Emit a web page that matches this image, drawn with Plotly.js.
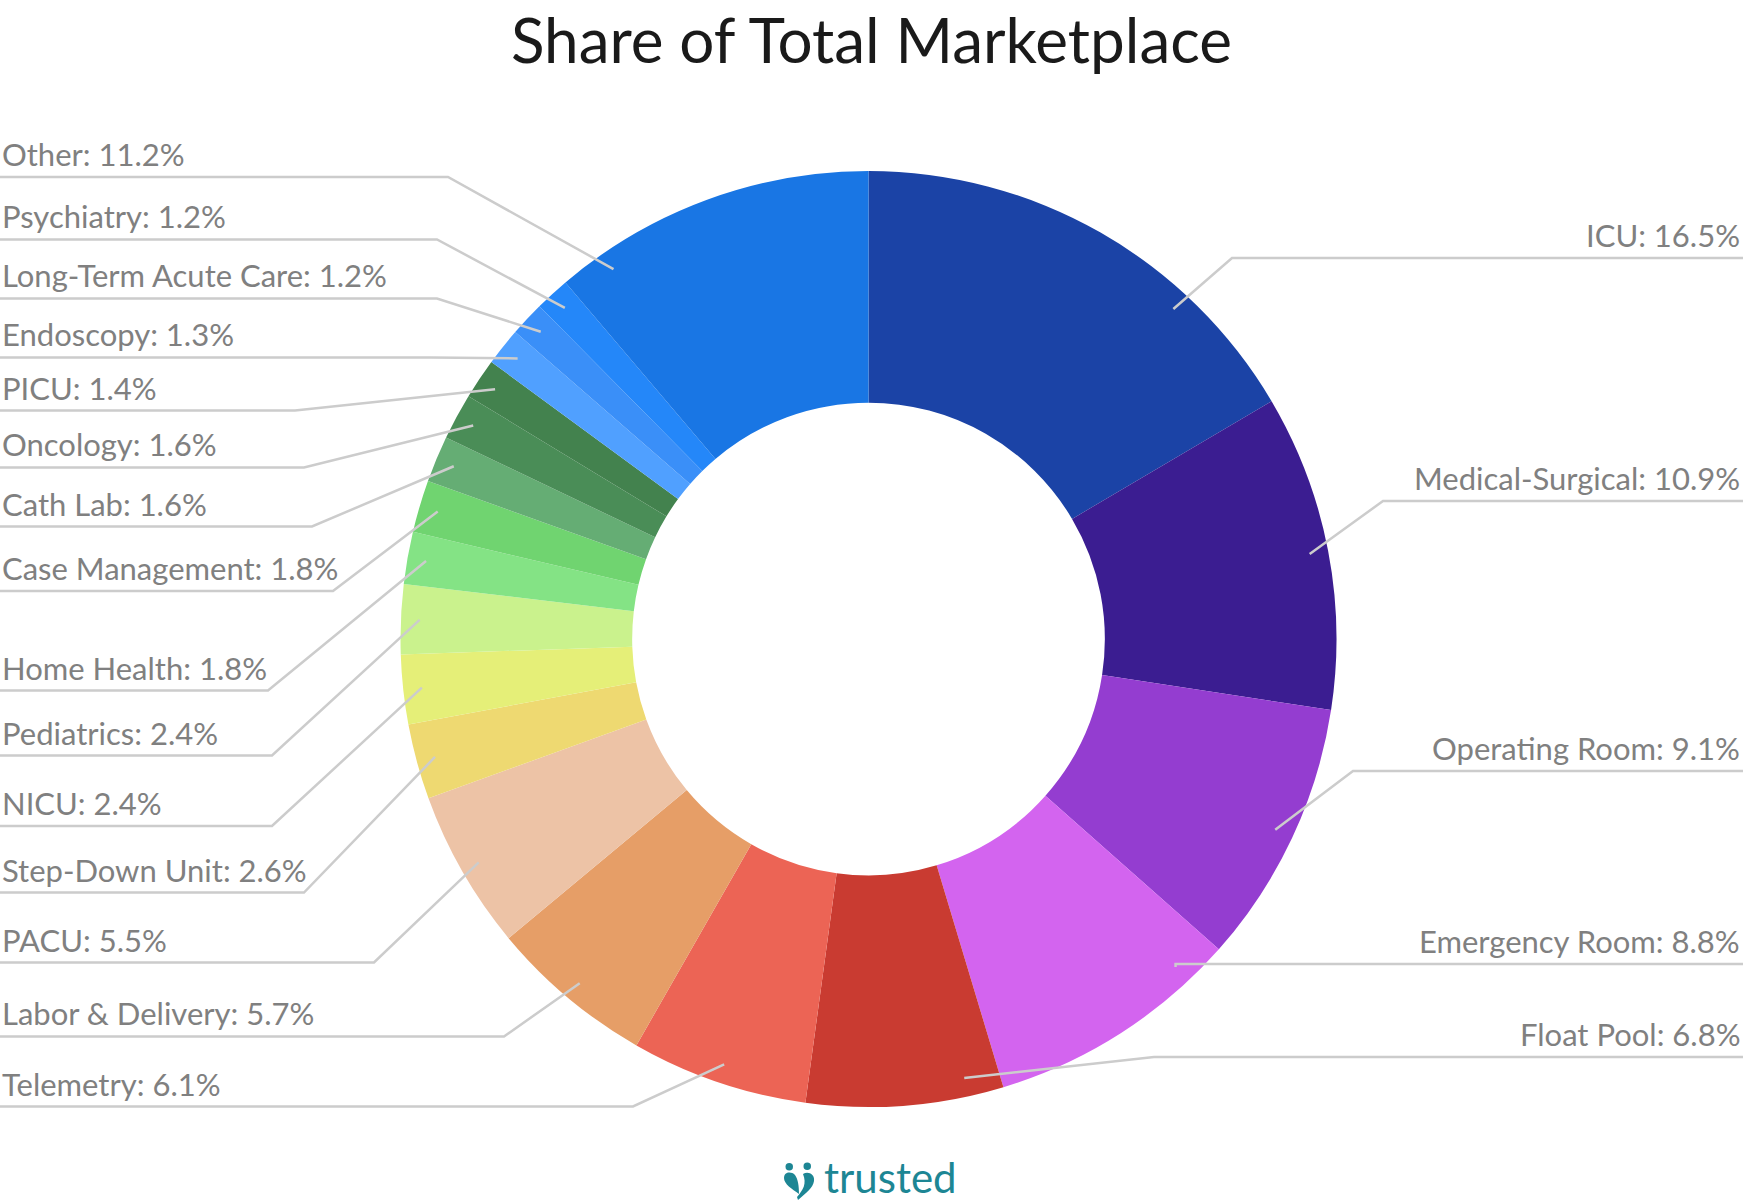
<!DOCTYPE html>
<html>
<head>
<meta charset="utf-8">
<script src="https://cdn.plot.ly/plotly-3.0.1.min.js"></script>
<style>
html,body{margin:0;padding:0;background:#ffffff;}
#chart{width:1743px;height:1203px;}
</style>
</head>
<body>
<div id="chart"></div>
<script>
// ---- data ----
const categories = ['ICU','Medical-Surgical','Operating Room','Emergency Room','Float Pool','Telemetry',
  'Labor & Delivery','PACU','Step-Down Unit','NICU','Pediatrics','Home Health','Case Management',
  'Cath Lab','Oncology','PICU','Endoscopy','Long-Term Acute Care','Psychiatry','Other'];
const shares = [16.5,10.9,9.1,8.8,6.8,6.1,5.7,5.5,2.6,2.4,2.4,1.8,1.8,1.6,1.6,1.4,1.3,1.2,1.2,11.2];
const sliceColors = ['#1b43a6','#3b1d91','#943dd0','#d364ef','#c93b31','#ec6455','#e69e67','#edc3a6',
  '#eed971','#e5ef78','#caf28d','#84e385','#70d470','#65ad74','#4a8d57','#43824e','#50a0ff','#3a8ff8',
  '#2487f9','#1976e4'];

// ---- label layout (pixels) ----
const W = 1743, H = 1203;
const CX = 868.5, CY = 639, R = 468, HOLE = 0.505;
const labelSide = ['R','R','R','R','R','L','L','L','L','L','L','L','L','L','L','L','L','L','L','L'];
const labelLineY = [258,501,771,964,1057,1106.5,1036.5,962.5,892.5,826,755.5,690.5,591,526.5,467.5,410.5,357.5,298.5,239.5,177];
const labelElbowX = [1232,1383,1353,null,1154,633,504,374,304,272,272,268,333,312,304,295,431,437,437,448];
const anchorShiftDeg = [13,0,0,-10.5,-7.8,0,0,0,0,0,0,0,0,0,0,0,0,0,0,-14.4];

const px = x => x / W;
const py = y => 1 - y / H;

const total = shares.reduce((a, b) => a + b, 0);
const shapes = [];
const annotations = [];
let cum = 0;
shares.forEach((v, i) => {
  const mid = (cum + v / 2) / total * 360 + anchorShiftDeg[i];
  cum += v;
  const t = mid * Math.PI / 180;
  const rA = 0.96 * R;
  const ax = CX + rA * Math.sin(t);
  const ay = CY - rA * Math.cos(t);
  const ly = labelLineY[i];
  const ex = labelElbowX[i] === null ? ax : labelElbowX[i];
  const edge = labelSide[i] === 'R' ? W : 0;
  shapes.push({
    type: 'path', xref: 'paper', yref: 'paper',
    path: `M ${px(ax)},${py(ay)} L ${px(ex)},${py(ly)} L ${px(edge)},${py(ly)}`,
    line: {color: '#cccccc', width: 2.5}
  });
  annotations.push({
    xref: 'paper', yref: 'paper',
    x: labelSide[i] === 'R' ? px(W - 1) : px(0),
    xanchor: labelSide[i] === 'R' ? 'right' : 'left',
    y: py(ly - 23), yanchor: 'middle',
    text: `${categories[i]}: ${shares[i].toFixed(1)}%`,
    showarrow: false,
    font: {family: 'Lato, "Noto Sans", sans-serif', size: 31, color: '#808080'}
  });
});

// logo
annotations.push({
  xref: 'paper', yref: 'paper', x: px(822), xanchor: 'left', y: py(1177), yanchor: 'middle',
  text: 'trusted', showarrow: false,
  font: {family: 'Lato, "Noto Sans", sans-serif', size: 42, color: '#1d8694'}
});
shapes.push({type: 'circle', xref: 'paper', yref: 'paper', x0: px(785.5), x1: px(793), y0: py(1170.5), y1: py(1163), fillcolor: '#1d8694', line: {width: 0}});
shapes.push({type: 'circle', xref: 'paper', yref: 'paper', x0: px(803.5), x1: px(811), y0: py(1170), y1: py(1162.5), fillcolor: '#1d8694', line: {width: 0}});
shapes.push({type: 'path', xref: 'paper', yref: 'paper', fillcolor: '#1d8694', line: {width: 0},
  path: `M ${px(799)},${py(1194)} C ${px(792)},${py(1189)} ${px(784)},${py(1184)} ${px(784)},${py(1178)} C ${px(784)},${py(1172)} ${px(791)},${py(1171)} ${px(795)},${py(1175)} C ${px(798)},${py(1179)} ${px(799)},${py(1186)} ${px(799)},${py(1194)} Z`});
shapes.push({type: 'path', xref: 'paper', yref: 'paper', fillcolor: '#1d8694', line: {width: 0},
  path: `M ${px(803)},${py(1174)} C ${px(808)},${py(1171)} ${px(815)},${py(1174)} ${px(814)},${py(1181)} C ${px(813)},${py(1188)} ${px(806)},${py(1193)} ${px(798)},${py(1200)} L ${px(797)},${py(1197)} C ${px(803)},${py(1190)} ${px(807)},${py(1184)} ${px(803)},${py(1174)} Z`});

const trace = {
  type: 'pie',
  labels: categories,
  values: shares,
  sort: false,
  direction: 'clockwise',
  rotation: 0,
  hole: HOLE,
  textinfo: 'none',
  hoverinfo: 'label+percent',
  marker: {colors: sliceColors, line: {width: 0}},
  domain: {x: [px(CX - R), px(CX + R)], y: [py(CY + R), py(CY - R)]},
  showlegend: false
};

const layout = {
  width: W, height: H,
  margin: {l: 0, r: 0, t: 0, b: 0},
  paper_bgcolor: '#ffffff',
  title: {
    text: 'Share of Total Marketplace',
    x: 0.5, xanchor: 'center', xref: 'paper',
    y: py(41), yref: 'container', yanchor: 'middle',
    font: {family: 'Lato, "Noto Sans", sans-serif', size: 62, color: '#1a1a1a'}
  },
  showlegend: false,
  shapes: shapes,
  annotations: annotations
};

Plotly.newPlot('chart', [trace], layout, {displayModeBar: false, staticPlot: true});
</script>
</body>
</html>
